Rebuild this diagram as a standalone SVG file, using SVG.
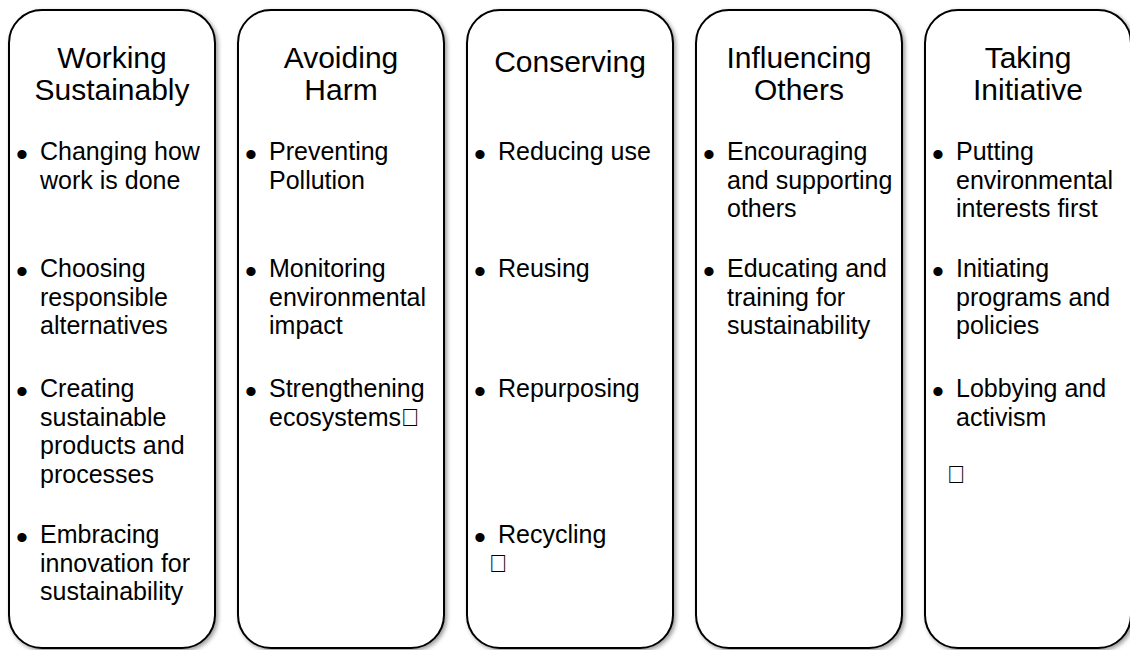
<svg xmlns="http://www.w3.org/2000/svg" width="1130" height="650" viewBox="0 0 1130 650">
<style>
.box{fill:#fff;stroke:#000;stroke-width:2;filter:url(#sh)}
.title{font-family:"Liberation Sans",Arial,sans-serif;font-size:30px;text-anchor:middle;fill:#000}
.body{font-family:"Liberation Sans",Arial,sans-serif;font-size:25px;fill:#000}
.bul{font-family:"Liberation Sans",Arial,sans-serif;font-size:34px;fill:#000}
</style>
<defs>
<filter id="sh" x="-10%" y="-10%" width="130%" height="130%">
<feDropShadow dx="2" dy="2" stdDeviation="2" flood-color="#000" flood-opacity="0.4"/>
</filter>
</defs>
<rect width="1130" height="650" fill="#fff"/>
<g id="connectors"/>
<g id="col1">
<rect class="box" x="9" y="10" width="206" height="638" rx="33"/>
<text class="title" x="112" y="68">Working</text>
<text class="title" x="112" y="100">Sustainably</text>
<text class="bul" x="16" y="166">•</text>
<text class="body" x="40" y="160"><tspan x="40">Changing how</tspan><tspan x="40" dy="28.5">work is done</tspan></text>
<text class="bul" x="16" y="283">•</text>
<text class="body" x="40" y="277"><tspan x="40">Choosing</tspan><tspan x="40" dy="28.5">responsible</tspan><tspan x="40" dy="28.5">alternatives</tspan></text>
<text class="bul" x="16" y="403">•</text>
<text class="body" x="40" y="397"><tspan x="40">Creating</tspan><tspan x="40" dy="28.5">sustainable</tspan><tspan x="40" dy="28.5">products and</tspan><tspan x="40" dy="28.5">processes</tspan></text>
<text class="bul" x="16" y="549">•</text>
<text class="body" x="40" y="543"><tspan x="40">Embracing</tspan><tspan x="40" dy="28.5">innovation for</tspan><tspan x="40" dy="28.5">sustainability</tspan></text>
</g>
<g id="col2">
<rect class="box" x="238" y="10" width="206" height="638" rx="33"/>
<text class="title" x="341" y="68">Avoiding</text>
<text class="title" x="341" y="100">Harm</text>
<text class="bul" x="245" y="166">•</text>
<text class="body" x="269" y="160"><tspan x="269">Preventing</tspan><tspan x="269" dy="28.5">Pollution</tspan></text>
<text class="bul" x="245" y="283">•</text>
<text class="body" x="269" y="277"><tspan x="269">Monitoring</tspan><tspan x="269" dy="28.5">environmental</tspan><tspan x="269" dy="28.5">impact</tspan></text>
<text class="bul" x="245" y="403">•</text>
<text class="body" x="269" y="397"><tspan x="269">Strengthening</tspan><tspan x="269" dy="28.5">ecosystems&#xF0A7;</tspan></text>
</g>
<g id="col3">
<rect class="box" x="467" y="10" width="206" height="638" rx="33"/>
<text class="title" x="570" y="72">Conserving</text>
<text class="bul" x="474" y="166">•</text>
<text class="body" x="498" y="160">Reducing use</text>
<text class="bul" x="474" y="283">•</text>
<text class="body" x="498" y="277">Reusing</text>
<text class="bul" x="474" y="403">•</text>
<text class="body" x="498" y="397">Repurposing</text>
<text class="bul" x="474" y="549">•</text>
<text class="body" x="498" y="543">Recycling</text>
<text class="body" x="489" y="571.5">&#xF0A7;</text>
</g>
<g id="col4">
<rect class="box" x="696" y="10" width="206" height="638" rx="33"/>
<text class="title" x="799" y="68">Influencing</text>
<text class="title" x="799" y="100">Others</text>
<text class="bul" x="703" y="166">•</text>
<text class="body" x="727" y="160"><tspan x="727">Encouraging</tspan><tspan x="727" dy="28.5">and supporting</tspan><tspan x="727" dy="28.5">others</tspan></text>
<text class="bul" x="703" y="283">•</text>
<text class="body" x="727" y="277"><tspan x="727">Educating and</tspan><tspan x="727" dy="28.5">training for</tspan><tspan x="727" dy="28.5">sustainability</tspan></text>
</g>
<g id="col5">
<rect class="box" x="925" y="10" width="206" height="638" rx="33"/>
<text class="title" x="1028" y="68">Taking</text>
<text class="title" x="1028" y="100">Initiative</text>
<text class="bul" x="932" y="166">•</text>
<text class="body" x="956" y="160"><tspan x="956">Putting</tspan><tspan x="956" dy="28.5">environmental</tspan><tspan x="956" dy="28.5">interests first</tspan></text>
<text class="bul" x="932" y="283">•</text>
<text class="body" x="956" y="277"><tspan x="956">Initiating</tspan><tspan x="956" dy="28.5">programs and</tspan><tspan x="956" dy="28.5">policies</tspan></text>
<text class="bul" x="932" y="403">•</text>
<text class="body" x="956" y="397"><tspan x="956">Lobbying and</tspan><tspan x="956" dy="28.5">activism</tspan></text>
<text class="body" x="947" y="482.5">&#xF0A7;</text>
</g>
</svg>
